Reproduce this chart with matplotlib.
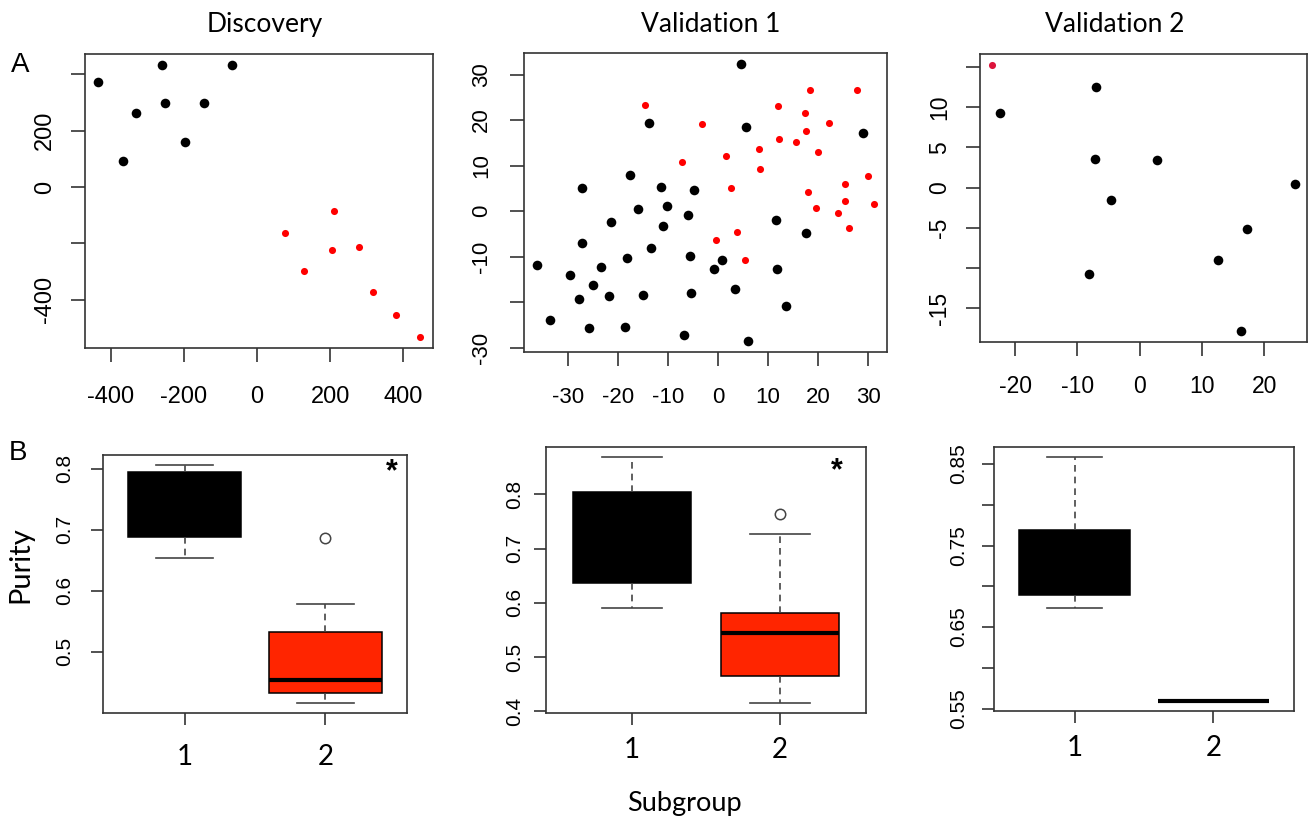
import matplotlib
matplotlib.use("Agg")
import matplotlib.pyplot as plt
import numpy as np

# ---------------- data ----------------
# Discovery scatter
disc_black_x = [-435, -260, -68, -330, -252, -145, -196, -366]
disc_black_y = [372, 431, 433, 263, 297, 297, 159, 94]
disc_red_x = [210, 77, 206, 279, 128, 317, 379, 446]
disc_red_y = [-85, -163, -224, -212, -298, -373, -454, -532]

# Validation 1 scatter
val1_black_x = [4.5, -13.7, 5.5, 28.9, -27.1, -17.6, -11.4, -4.7, -16.0, -10.2,
                -21.4, -5.9, -10.9, 11.6, 17.6, -27.1, -13.4, -18.2, -5.5, 0.7,
                -0.8, 11.8, -36.1, -29.5, -23.4, -25.0, -27.7, -21.8, -15.0, -5.3,
                3.3, 13.5, -33.6, -25.8, -18.5, -6.8, 5.9]
val1_black_y = [32.3, 19.3, 18.5, 17.2, 5.1, 7.9, 5.2, 4.7, 0.4, 1.2,
                -2.3, -0.9, -3.2, -2.0, -4.9, -7.1, -8.2, -10.2, -9.8, -10.7,
                -12.7, -12.6, -11.8, -14.0, -12.2, -16.3, -19.3, -18.6, -18.5, -18.0,
                -17.2, -20.8, -23.9, -25.7, -25.5, -27.2, -28.5]
val1_red_x = [-14.6, -3.1, -7.1, 1.5, 2.6, -0.4, 3.7, 5.3, 8.1, 8.4,
              11.9, 12.2, 15.6, 17.4, 17.5, 18.3, 20.0, 22.1, 27.7, 17.9,
              19.6, 25.3, 25.3, 24.0, 26.1, 29.9, 31.1]
val1_red_y = [23.4, 19.1, 10.8, 12.1, 5.0, -6.4, -4.5, -10.7, 13.6, 9.2,
              23.1, 15.8, 15.2, 21.6, 17.7, 26.5, 12.9, 19.3, 26.6, 4.1,
              0.6, 5.9, 2.3, -0.5, -3.8, 7.7, 1.5]

# Validation 2 scatter
val2_black_x = [-22.4, -7.1, -7.2, 2.7, -4.65, 24.9, 17.2, 12.6, -8.1, 16.3]
val2_black_y = [9.25, 12.5, 3.6, 3.4, -1.6, 0.4, -5.2, -9.0, -10.7, -17.9]
val2_red_x = [-23.7]
val2_red_y = [15.3]

# Purity box-plot statistics per subgroup (1, 2)
subgroups = ["1", "2"]
disc_whislo = [0.653, 0.415]
disc_q1 = [0.688, 0.4316]
disc_med = [0.740, 0.4535]
disc_q3 = [0.795, 0.532]
disc_whishi = [0.807, 0.579]
disc_fliers = [[], [0.686]]

val1_whislo = [0.590, 0.415]
val1_q1 = [0.637, 0.465]
val1_med = [0.720, 0.544]
val1_q3 = [0.805, 0.581]
val1_whishi = [0.869, 0.726]
val1_fliers = [[], [0.764]]

val2_whislo = [0.674, 0.559]
val2_q1 = [0.6895, 0.559]
val2_med = [0.720, 0.559]
val2_q3 = [0.7697, 0.559]
val2_whishi = [0.859, 0.559]
val2_fliers = [[], []]

# ---------------- style ----------------
W, H = 1309, 818
fig = plt.figure(figsize=(W / 100, H / 100), dpi=100)

ARIAL = "Liberation Sans"
CAL = "Lato"
AXC = "#333333"
RED = "#ff0000"
BOXRED = "#ff2500"


def px_axes(l, t, r, b):
    return fig.add_axes([l / W, 1 - b / H, (r - l) / W, (b - t) / H])


def frame(ax, ticklen):
    for s in ax.spines.values():
        s.set_linewidth(1.2)
        s.set_color(AXC)
    ax.tick_params(direction="out", length=ticklen, width=1.2, color=AXC)


def scatter_panel(ax, bx, by, rx, ry, red, xt, xl, yt, yl, fs, xpad, ypad):
    ax.scatter(bx, by, s=48, color="black", linewidths=0, zorder=3)
    ax.scatter(rx, ry, s=26, color=red, linewidths=0, zorder=3)
    ax.margins(x=0.04, y=0.04)
    ax.set_xticks(xt)
    ax.set_xticklabels(xl, family=ARIAL, fontsize=fs)
    ax.set_yticks(yt)
    ax.set_yticklabels(yl, family=ARIAL, fontsize=fs, rotation=90,
                       va="center", ha="right")
    frame(ax, 10)
    ax.tick_params(axis="x", pad=xpad)
    ax.tick_params(axis="y", pad=ypad)


# ---------------- top row: scatter plots ----------------
ax1 = px_axes(85, 54, 433, 348)
scatter_panel(ax1, disc_black_x, disc_black_y, disc_red_x, disc_red_y, RED,
              [-400, -200, 0, 200, 400], ["-400", "-200", "0", "200", "400"],
              [-400, -200, 0, 200, 400], ["-400", "", "0", "200", ""],
              17, 17, 11)

ax2 = px_axes(524, 53, 887, 352)
scatter_panel(ax2, val1_black_x, val1_black_y, val1_red_x, val1_red_y, RED,
              [-30, -20, -10, 0, 10, 20, 30],
              ["-30", "-20", "-10", "0", "10", "20", "30"],
              [-30, -20, -10, 0, 10, 20, 30],
              ["-30", "", "-10", "0", "10", "20", "30"],
              16, 15, 13)

ax3 = px_axes(980, 54, 1307, 342)
scatter_panel(ax3, val2_black_x, val2_black_y, val2_red_x, val2_red_y, "#dc143c",
              [-20, -10, 0, 10, 20], ["-20", "-10", "0", "10", "20"],
              [-15, -10, -5, 0, 5, 10, 15],
              ["-15", "", "-5", "0", "5", "10", ""],
              16.5, 14, 11)

# ---------------- bottom row: box plots ----------------


def box_panel(ax, whislo, q1, med, q3, whishi, fliers, yt, yl, xpad, ypad):
    stats = []
    for i in range(len(subgroups)):
        stats.append(dict(whislo=whislo[i], q1=q1[i], med=med[i], q3=q3[i],
                          whishi=whishi[i], fliers=fliers[i], label=subgroups[i]))
    pos = np.arange(1, len(subgroups) + 1)
    bp = ax.bxp(stats, positions=pos, widths=0.8, capwidths=0.4,
                patch_artist=True, showfliers=True,
                boxprops=dict(linewidth=1.1, edgecolor="black"),
                whiskerprops=dict(linewidth=1.2, color="#444444",
                                  linestyle=(0, (4, 3))),
                capprops=dict(linewidth=1.2, color="#444444"),
                medianprops=dict(linewidth=3.0, color="black",
                                 solid_capstyle="butt"),
                flierprops=dict(marker="o", markersize=7.5, markerfacecolor="none",
                                markeredgecolor="#444444", markeredgewidth=1.1))
    colors = ["black", BOXRED]
    for p, c in zip(bp["boxes"], colors):
        p.set_facecolor(c)
    allf = [v for f in fliers for v in f]
    lo = min(list(whislo) + allf)
    hi = max(list(whishi) + allf)
    span = hi - lo
    ax.set_ylim(lo - 0.04 * span, hi + 0.04 * span)
    n = len(subgroups)
    ax.set_xlim(0.5 - 0.04 * n, n + 0.5 + 0.04 * n)
    ax.set_xticks(pos)
    ax.set_xticklabels(subgroups, family=CAL, fontsize=20)
    ax.set_yticks(yt)
    ax.set_yticklabels(yl, family=ARIAL, fontsize=15, rotation=90,
                       va="center", ha="right")
    frame(ax, 8.5)
    ax.tick_params(axis="y", pad=ypad)
    ax.tick_params(axis="x", pad=xpad)


bx1 = px_axes(103, 455, 407, 713)
box_panel(bx1, disc_whislo, disc_q1, disc_med, disc_q3, disc_whishi, disc_fliers,
          [0.5, 0.6, 0.7, 0.8], ["0.5", "0.6", "0.7", "0.8"], 14, 12)
bx1.text(0.951, 0.935, "*", transform=bx1.transAxes, ha="center", va="center",
         fontsize=22, fontweight="bold", family=ARIAL)

bx2 = px_axes(546, 447, 866, 713)
box_panel(bx2, val1_whislo, val1_q1, val1_med, val1_q3, val1_whishi, val1_fliers,
          [0.4, 0.5, 0.6, 0.7, 0.8], ["0.4", "0.5", "0.6", "0.7", "0.8"], 9, 7.5)
bx2.text(0.908, 0.908, "*", transform=bx2.transAxes, ha="center", va="center",
         fontsize=22, fontweight="bold", family=ARIAL)

bx3 = px_axes(994, 447, 1294, 711)
box_panel(bx3, val2_whislo, val2_q1, val2_med, val2_q3, val2_whishi, val2_fliers,
          [0.55, 0.60, 0.65, 0.70, 0.75, 0.80, 0.85],
          ["0.55", "", "0.65", "", "0.75", "", "0.85"], 8.5, 10)

# ---------------- texts ----------------
fig.text(265 / W, 1 - 32 / H, "Discovery", ha="center", va="baseline",
         fontsize=19, family=CAL)
fig.text(711 / W, 1 - 32 / H, "Validation 1", ha="center", va="baseline",
         fontsize=19, family=CAL)
fig.text(1115 / W, 1 - 32 / H, "Validation 2", ha="center", va="baseline",
         fontsize=19, family=CAL)
fig.text(20 / W, 1 - 65 / H, "A", ha="center", va="center", fontsize=20,
         family=ARIAL)
fig.text(18 / W, 1 - 453 / H, "B", ha="center", va="center", fontsize=20,
         family=ARIAL)
fig.text(20 / W, 1 - 565 / H, "Purity", ha="center", va="center", rotation=90,
         fontsize=21, family=CAL)
fig.text(684 / W, 1 - 811 / H, "Subgroup", ha="center", va="baseline",
         fontsize=19.5, family=CAL)

fig.savefig("out.png", dpi=100)
